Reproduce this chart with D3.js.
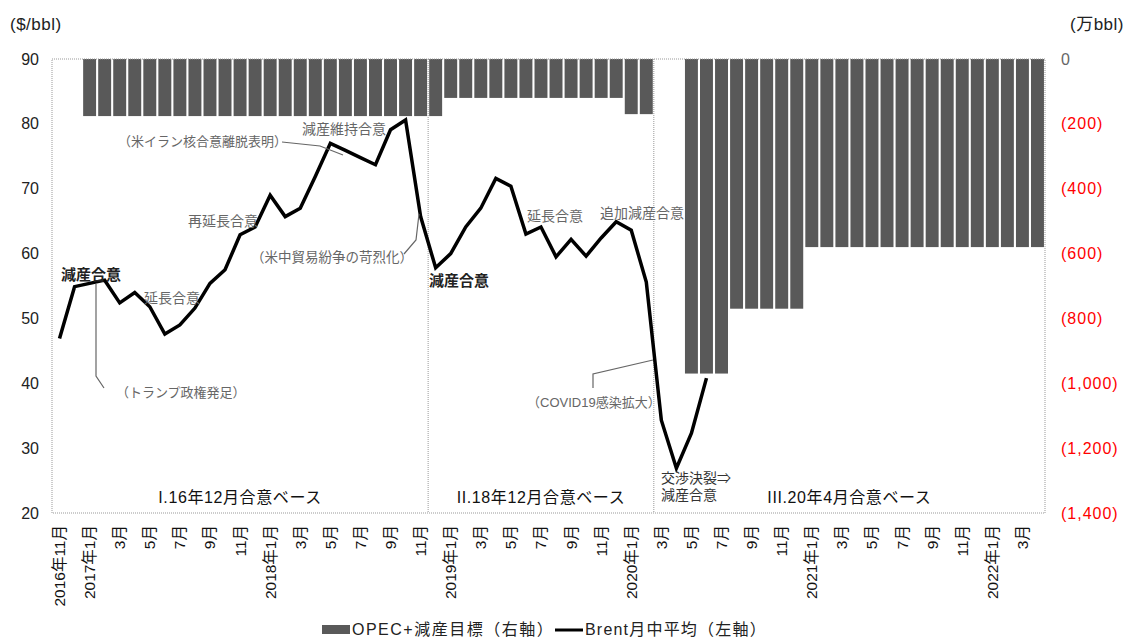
<!DOCTYPE html>
<html>
<head>
<meta charset="utf-8">
<script src="https://cdn.jsdelivr.net/npm/d3@7"></script>
<style>
  body { margin: 0; background: #fff; }
  svg text { font-family: "Liberation Sans", Arial, "Noto Sans CJK JP", sans-serif; }
</style>
</head>
<body>
<div id="chart"></div>
<script>
// months on the x axis, 2016/11 - 2022/4
var months = [
  "2016-11","2016-12",
  "2017-01","2017-02","2017-03","2017-04","2017-05","2017-06","2017-07","2017-08","2017-09","2017-10","2017-11","2017-12",
  "2018-01","2018-02","2018-03","2018-04","2018-05","2018-06","2018-07","2018-08","2018-09","2018-10","2018-11","2018-12",
  "2019-01","2019-02","2019-03","2019-04","2019-05","2019-06","2019-07","2019-08","2019-09","2019-10","2019-11","2019-12",
  "2020-01","2020-02","2020-03","2020-04","2020-05","2020-06","2020-07","2020-08","2020-09","2020-10","2020-11","2020-12",
  "2021-01","2021-02","2021-03","2021-04","2021-05","2021-06","2021-07","2021-08","2021-09","2021-10","2021-11","2021-12",
  "2022-01","2022-02","2022-03","2022-04"
];

// tick labels (every other month)
var monthLabels = [
  "2016年11月","","2017年1月","","3月","","5月","","7月","","9月","","11月","",
  "2018年1月","","3月","","5月","","7月","","9月","","11月","",
  "2019年1月","","3月","","5月","","7月","","9月","","11月","",
  "2020年1月","","3月","","5月","","7月","","9月","","11月","",
  "2021年1月","","3月","","5月","","7月","","9月","","11月","",
  "2022年1月","","3月",""
];

// OPEC+ cut target (万bbl), null = no target
var cuts = [
  null, null,
  176,176,176,176,176,176,176,176,176,176,176,176,
  176,176,176,176,176,176,176,176,176,176,176,176,
  120,120,120,120,120,120,120,120,120,120,120,120,
  170,170,null,null,970,970,970,770,770,770,770,770,
  580,580,580,580,580,580,580,580,580,580,580,580,
  580,580,580,580
];

// Brent monthly average ($/bbl), 2016/11 - 2020/6
var brent = [
  46.9, 54.9,
  55.4, 55.9, 52.4, 54.0, 51.8, 47.6, 49.0, 51.6, 55.4, 57.5, 62.9, 64.1,
  69.0, 65.7, 67.0, 71.9, 77.0, 75.9, 74.8, 73.7, 79.1, 80.6, 65.7, 57.8,
  60.0, 64.1, 67.0, 71.6, 70.4, 63.0, 64.1, 59.5, 62.2, 59.6, 62.4, 64.9,
  63.6, 55.6, 34.3, 26.9, 32.3, 40.8
];

var leftTicks = [20, 30, 40, 50, 60, 70, 80, 90];
var rightTicks = [0, 200, 400, 600, 800, 1000, 1200, 1400];

// period separators (first month of each period)
var periodStarts = ["2018-12", "2020-03"];
var periodLabels = [
  {text: "I.16年12月合意ベース", from: "2016-11", to: "2018-11"},
  {text: "II.18年12月合意ベース", from: "2018-12", to: "2020-02"},
  {text: "III.20年4月合意ベース", from: "2020-03", to: "2022-04"}
];

var svgWidth = 1126;
var svgHeight = 639;

var chartMargin = {top: 59, right: 81, bottom: 126, left: 52};
var chartWidth = svgWidth - chartMargin.left - chartMargin.right;
var chartHeight = svgHeight - chartMargin.top - chartMargin.bottom;

var svg = d3.select("#chart")
  .append("svg")
    .attr("width", svgWidth)
    .attr("height", svgHeight)
  .append("g")
    .attr("transform", "translate(" + chartMargin.left + "," + chartMargin.top + ")");

var x = d3.scaleBand()
  .domain(months)
  .range([0, chartWidth])
  .paddingInner(0.14)
  .paddingOuter(0.07);

// step-based edges for separators
var step = chartWidth / months.length;
function leftEdge(m) { return months.indexOf(m) * step; }
function center(m) { return x(m) + x.bandwidth() / 2; }

var y = d3.scaleLinear().domain([20, 90]).range([chartHeight, 0]);
var y2 = d3.scaleLinear().domain([0, 1400]).range([0, chartHeight]);

// bars (hang from the top)
svg.append("g")
  .selectAll("rect")
  .data(months.map(function(m, i) { return {m: m, v: cuts[i]}; }).filter(function(d) { return d.v != null; }))
  .enter()
  .append("rect")
    .attr("x", function(d) { return x(d.m); })
    .attr("y", y2(0))
    .attr("width", x.bandwidth())
    .attr("height", function(d) { return y2(d.v) - y2(0); })
    .style("fill", "#595959");

// plot border, dotted
svg.append("rect")
  .attr("x", 0).attr("y", 0)
  .attr("width", chartWidth).attr("height", chartHeight)
  .style("fill", "none")
  .style("stroke", "#999")
  .style("stroke-dasharray", "1,1");

svg.selectAll(".sep")
  .data(periodStarts)
  .enter()
  .append("line")
    .attr("x1", function(d) { return leftEdge(d); })
    .attr("x2", function(d) { return leftEdge(d); })
    .attr("y1", 0).attr("y2", chartHeight)
    .style("stroke", "#999")
    .style("stroke-dasharray", "1,1");

// period labels
svg.selectAll(".period")
  .data(periodLabels)
  .enter()
  .append("text")
    .attr("x", function(d) { return (leftEdge(d.from) + leftEdge(d.to) + step) / 2; })
    .attr("y", chartHeight - 10)
    .attr("text-anchor", "middle")
    .style("font-size", "16px")
    .style("letter-spacing", "0.6px")
    .style("fill", "#111")
    .text(function(d) { return d.text; });

// brent line
var line = d3.line()
  .x(function(d) { return center(d.m); })
  .y(function(d) { return y(d.v); });

svg.append("path")
  .datum(brent.map(function(v, i) { return {m: months[i], v: v}; }))
  .attr("d", line)
  .style("fill", "none")
  .style("stroke", "#000")
  .style("stroke-width", 3.5)
  .style("stroke-linejoin", "miter");

// left axis
var yAxis = svg.append("g")
  .call(d3.axisLeft(y).tickValues(leftTicks).tickSize(0).tickPadding(13));
yAxis.select(".domain").remove();
yAxis.selectAll("text")
  .style("font-size", "16px")
  .style("fill", "#222")
  .style("font-family", "Liberation Sans, Arial, sans-serif");

// right axis
var y2Axis = svg.append("g")
  .attr("transform", "translate(" + chartWidth + ",0)")
  .call(d3.axisRight(y2).tickValues(rightTicks).tickSize(0).tickPadding(16)
    .tickFormat(function(d) { return d === 0 ? "0" : "(" + d3.format(",")(d) + ")"; }));
y2Axis.select(".domain").remove();
y2Axis.selectAll("text")
  .style("font-size", "16px")
  .style("letter-spacing", "1px")
  .style("fill", function(d) { return d === 0 ? "#666" : "#f00"; })
  .style("font-family", "Liberation Sans, Arial, sans-serif");

// x axis labels, rotated
svg.append("g")
  .selectAll("text")
  .data(months.map(function(m, i) { return {m: m, t: monthLabels[i]}; }).filter(function(d) { return d.t; }))
  .enter()
  .append("text")
    .attr("transform", function(d) { return "translate(" + (center(d.m) + 5.5) + "," + (chartHeight + 12) + ") rotate(-90)"; })
    .attr("text-anchor", "end")
    .style("font-size", "15.5px")
    .style("fill", "#111")
    .text(function(d) { return d.t; });

// axis titles
svg.append("text").attr("x", -42).attr("y", -29)
  .style("font-size", "17px").style("letter-spacing", "0.5px").style("fill", "#222").text("($/bbl)");
svg.append("text").attr("x", chartWidth + 25).attr("y", -29)
  .style("font-size", "17px").style("letter-spacing", "0.5px").style("fill", "#222").text("(万bbl)");

// annotations
var grey = "#666";
function note(px, py, t, opts) {
  opts = opts || {};
  svg.append("text")
    .attr("x", px - chartMargin.left)
    .attr("y", py - chartMargin.top)
    .attr("text-anchor", opts.anchor || "start")
    .style("font-size", (opts.size || 14) + "px")
    .style("font-weight", opts.bold ? "bold" : "normal")
    .style("fill", opts.color || grey)
    .text(t);
}
function leader(pts) {
  svg.append("path")
    .attr("d", d3.line()(pts.map(function(p) { return [p[0] - chartMargin.left, p[1] - chartMargin.top]; })))
    .style("fill", "none")
    .style("stroke", grey)
    .style("stroke-width", 1.2);
}

note(61, 280, "減産合意", {bold: true, color: "#222", size: 15});
leader([[96, 284], [96, 376], [104, 388]]);
note(116, 397, "（トランプ政権発足）", {size: 13});
note(144, 303, "延長合意");
note(188, 226, "再延長合意");
note(118, 146, "（米イラン核合意離脱表明）", {size: 13});
leader([[282, 142], [320, 146], [343, 155]]);
note(302, 134, "減産維持合意");
note(251, 262, "（米中貿易紛争の苛烈化）", {size: 13.5});
leader([[404, 254], [416, 240], [419, 214]]);
note(429, 286, "減産合意", {bold: true, color: "#222", size: 15});
note(527, 221, "延長合意");
note(600, 218, "追加減産合意");
leader([[593, 388], [593, 374], [653, 360]]);
note(527, 407, "（COVID19感染拡大）", {size: 13});
note(661, 483, "交渉決裂⇒", {color: "#333"});
note(661, 500, "減産合意", {color: "#333"});

// legend
var lg = svg.append("g").attr("transform", "translate(" + (322 - chartMargin.left) + "," + (631 - chartMargin.top) + ")");
lg.append("rect").attr("x", 0).attr("y", -6).attr("width", 28).attr("height", 9).style("fill", "#595959");
lg.append("text").attr("x", 30).attr("y", 4).style("font-size", "16px").style("letter-spacing", "1.5px")
  .style("fill", "#222").text("OPEC+減産目標（右軸）");
lg.append("line").attr("x1", 233).attr("x2", 261).attr("y1", -1).attr("y2", -1).style("stroke", "#000").style("stroke-width", 3);
lg.append("text").attr("x", 263).attr("y", 4).style("font-size", "16px").style("letter-spacing", "1.2px")
  .style("fill", "#222").text("Brent月中平均（左軸）");
</script>
</body>
</html>
